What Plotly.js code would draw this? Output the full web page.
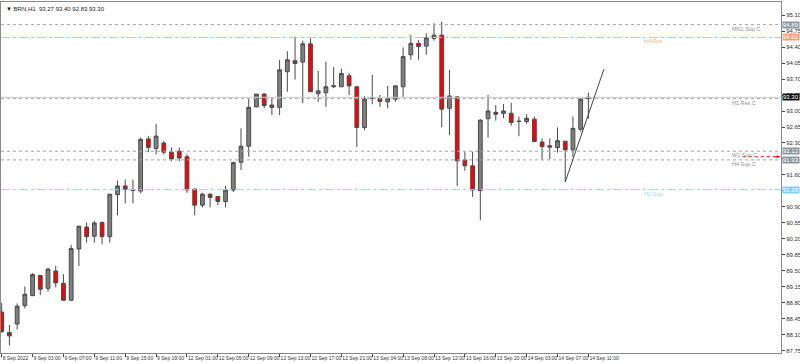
<!DOCTYPE html>
<html><head><meta charset="utf-8">
<script src="https://cdn.plot.ly/plotly-3.0.1.min.js"></script>
<style>html,body{margin:0;padding:0;background:#fff;}#chart{width:800px;height:364px;}</style>
</head><body><div id="chart"></div>
<script>
// ---- data ----
const openP  = [88.60,88.15,88.34,88.74,88.96,89.40,89.12,89.50,89.23,88.86,89.98,90.46,90.26,90.56,90.25,91.17,91.36,91.26,91.25,92.39,92.18,92.30,92.10,92.12,92.00,91.29,90.94,91.18,91.13,91.02,91.27,91.88,92.23,93.09,93.37,93.13,93.08,93.86,94.10,94.07,94.47,93.38,93.40,93.53,93.53,93.77,93.53,92.64,93.28,93.28,93.20,93.26,93.53,94.23,94.48,94.42,94.59,94.66,93.06,93.31,91.93,91.80,91.26,92.83,92.97,92.95,92.95,92.77,92.77,92.82,92.32,92.24,92.20,92.34,92.15,92.60,93.27];
const highP  = [88.80,88.32,88.79,89.16,89.45,89.41,89.57,89.61,89.43,90.07,90.48,90.56,90.60,90.58,91.18,91.48,91.50,91.50,92.42,92.45,92.72,92.35,92.20,92.20,92.05,91.31,91.21,91.20,91.13,91.36,91.89,92.62,93.26,93.37,93.39,93.30,94.12,94.31,94.63,94.54,94.59,93.88,94.08,93.96,93.93,93.83,93.53,93.33,93.79,93.35,93.55,93.55,94.39,94.66,94.55,94.70,94.92,94.95,93.90,93.33,92.11,92.11,92.82,93.35,93.13,93.15,93.18,92.88,92.93,92.88,92.40,92.40,92.64,92.34,92.88,93.27,93.40];
const lowP   = [88.15,87.87,88.22,88.68,88.95,88.97,89.05,89.14,88.86,88.85,89.61,90.12,90.12,90.08,90.12,90.72,90.98,90.98,91.20,92.10,92.05,92.05,91.90,91.90,91.21,90.72,90.89,90.89,90.94,90.89,91.23,91.71,92.00,93.08,93.06,92.91,92.91,93.42,93.69,93.17,93.42,93.20,93.09,93.50,93.53,93.35,92.21,92.58,93.15,93.09,93.06,93.20,93.31,94.12,94.12,94.23,94.54,92.64,92.47,91.36,91.69,91.12,90.61,92.42,92.79,92.84,92.68,92.45,92.72,92.33,91.93,91.94,92.09,91.45,91.99,92.55,92.83];
const closeP = [88.17,88.08,88.73,88.99,89.42,89.10,89.54,89.24,88.86,89.99,90.48,90.25,90.55,90.25,91.18,91.36,91.29,91.27,92.38,92.20,92.45,92.10,91.95,91.97,91.27,90.94,91.18,91.11,91.02,91.27,91.87,92.23,93.08,93.37,93.12,93.08,93.90,94.12,94.04,94.47,93.42,93.44,93.53,93.55,93.82,93.55,92.64,93.26,93.285,93.21,93.27,93.55,94.19,94.48,94.41,94.60,94.66,93.04,93.33,91.91,91.80,91.27,92.80,93.00,92.93,93.00,92.75,92.775,92.84,92.33,92.22,92.21,92.35,92.15,92.62,93.26,93.30];

const tickLabels = ["8 Sep 2022","9 Sep 03:00","9 Sep 07:00","9 Sep 11:00","9 Sep 15:00","9 Sep 19:00","12 Sep 01:00","12 Sep 05:00","12 Sep 09:00","12 Sep 13:00","12 Sep 17:00","12 Sep 21:00","13 Sep 04:00","13 Sep 08:00","13 Sep 12:00","13 Sep 16:00","13 Sep 20:00","14 Sep 03:00","14 Sep 07:00","14 Sep 11:00"];
const barsPerLabel = 4;
const yTickVals = [87.75,88.10,88.45,88.80,89.15,89.50,89.85,90.20,90.55,90.90,91.25,91.60,91.95,92.30,92.65,93.00,93.35,93.70,94.05,94.40,94.75,95.10];
const yTickHidden = [91.25, 91.95];

const levelNames  = ["MN1 Sup C","H4 Res","H1 Res C","W1 Sup C","H4 Sup C","H1 Sup"];
const levelValues = [94.89, 94.61, 93.27, 92.12, 91.93, 91.28];
const levelColors = ["#a6a6a6","#ffb08f","#a6a6a6","#a6a6a6","#a6a6a6","#9fd8f5"];
const levelDash   = ["dot","dashdot","dot","dot","dot","dashdot"];
const levelBoxBg  = ["#8c96a0","#ffa07a",null,"#8c96a0","#8c96a0","#87cefa"];
const levelTextX  = [94.4, 82.9, 94.4, 94.4, 94.4, 82.9];

const symbol = "BRN,H1";
const bid = 93.30;
const trendX = [73, 78];
const trendY = [91.45, 93.91];
const arrowX = [96.0, 100.8];
const arrowY = 92.00;

// ---- build ----
const FONT = 'Liberation Sans, Arial, sans-serif';
const xIdx = openP.map((_, i) => i);
const tickVals = tickLabels.map((_, k) => k * barsPerLabel);

const trace = {
  type: 'candlestick', x: xIdx, open: openP, high: highP, low: lowP, close: closeP,
  increasing: {line: {color: '#4a4a4a', width: 1}, fillcolor: '#7f7f7f'},
  decreasing: {line: {color: '#4a4a4a', width: 1}, fillcolor: '#ff0000'},
  whiskerwidth: 0, hoverinfo: 'skip', showlegend: false
};

const shapes = [];
const annotations = [];
levelValues.forEach((v, i) => {
  shapes.push({type: 'line', xref: 'paper', x0: 0, x1: 1, yref: 'y', y0: v, y1: v,
    line: {color: levelColors[i], width: 1, dash: levelDash[i]}});
  annotations.push({xref: 'x', yref: 'y', x: levelTextX[i], y: v, yshift: -4, xanchor: 'left', yanchor: 'middle',
    text: levelNames[i], showarrow: false, font: {family: FONT, size: 5.5, color: levelColors[i] === '#a6a6a6' ? '#8f8f8f' : levelColors[i]}});
  if (levelBoxBg[i]) {
    annotations.push({xref: 'paper', yref: 'y', x: 1, xshift: 1, y: v, xanchor: 'left', yanchor: 'middle',
      text: v.toFixed(2), showarrow: false, bgcolor: levelBoxBg[i], borderpad: 0,
      font: {family: FONT, size: 6, color: '#ffffff'}});
  }
});
// bid line and label
shapes.push({type: 'line', xref: 'paper', x0: 0, x1: 1, yref: 'y', y0: bid, y1: bid, line: {color: '#c8c8c8', width: 1}});
annotations.push({xref: 'paper', yref: 'y', x: 1, xshift: 1, y: bid, xanchor: 'left', yanchor: 'middle',
  text: bid.toFixed(2), showarrow: false, bgcolor: '#111111', borderpad: 0,
  font: {family: FONT, size: 6, color: '#ffffff'}});
// trend line
shapes.push({type: 'line', xref: 'x', yref: 'y', x0: trendX[0], y0: trendY[0], x1: trendX[1], y1: trendY[1], line: {color: '#444', width: 1}});
// red dotted arrow
shapes.push({type: 'line', xref: 'x', yref: 'y', x0: arrowX[0], x1: arrowX[1], y0: arrowY, y1: arrowY, line: {color: '#ff0000', width: 1, dash: 'dot'}});
annotations.push({xref: 'x', yref: 'y', x: arrowX[1], y: arrowY, ax: -6, ay: 0, showarrow: true, arrowhead: 2, arrowsize: 0.6, arrowwidth: 1, arrowcolor: '#ff0000', text: ''});
// header
annotations.push({xref: 'paper', yref: 'paper', x: 0, xshift: 3, y: 1, yshift: -2, xanchor: 'left', yanchor: 'top',
  text: '\u25BC ' + symbol + '  ' + [openP.at(-1), highP.at(-1), lowP.at(-1), closeP.at(-1)].map(v => v.toFixed(2)).join(' '),
  showarrow: false, font: {family: FONT, size: 6, color: '#222'}});

const layout = {
  width: 800, height: 364, paper_bgcolor: '#ffffff', plot_bgcolor: '#ffffff',
  margin: {l: 1, r: 19, t: 2, b: 11},
  showlegend: false,
  xaxis: {range: [-0.09, 100.95], tickvals: tickVals, ticktext: tickLabels, ticklabelposition: 'outside right',
    tickangle: 0, ticks: 'outside', ticklen: 3, tickcolor: '#444', showgrid: false, zeroline: false,
    showline: true, linecolor: '#8a8a8a', linewidth: 1, mirror: true,
    rangeslider: {visible: false}, tickfont: {family: FONT, size: 5, color: '#333'}},
  yaxis: {range: [87.705, 95.385], side: 'right', tickvals: yTickVals,
    ticktext: yTickVals.map(v => yTickHidden.includes(v) ? '' : v.toFixed(2)),
    ticks: 'outside', ticklen: 3, tickcolor: '#444', showgrid: false, zeroline: false,
    showline: true, linecolor: '#8a8a8a', linewidth: 1, mirror: true,
    tickfont: {family: FONT, size: 6, color: '#333'}},
  shapes: shapes, annotations: annotations
};
Plotly.newPlot('chart', [trace], layout, {displayModeBar: false, staticPlot: true});
</script></body></html>
